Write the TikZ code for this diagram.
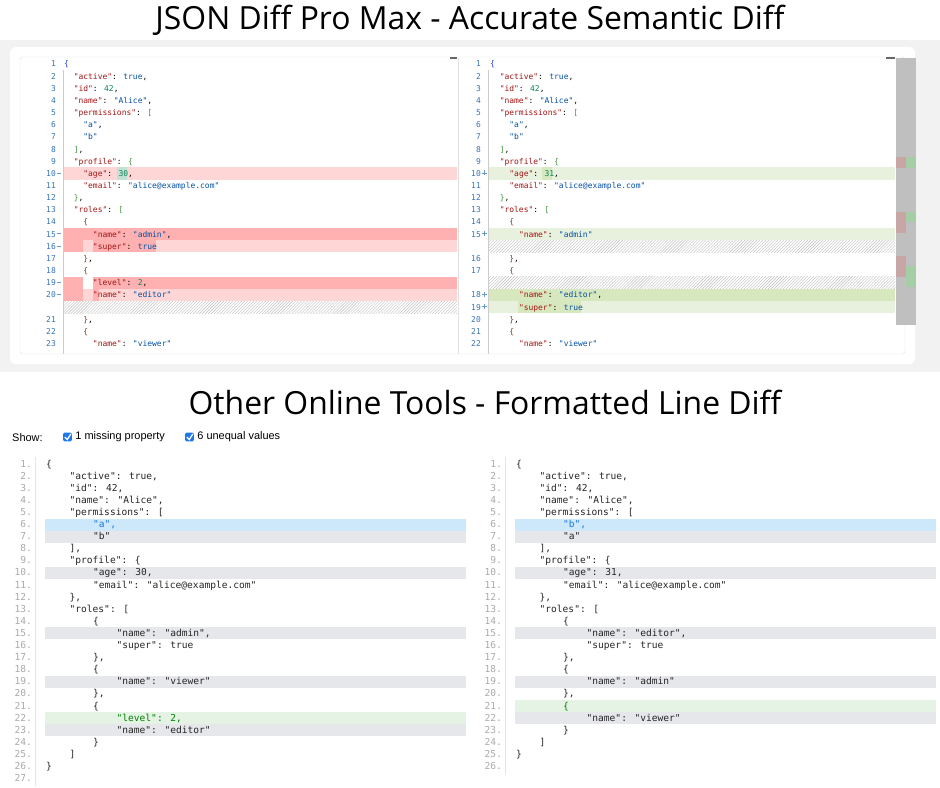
\documentclass[tikz,border=0pt]{standalone}
\usepackage{fontspec}
\setmainfont{Open Sans}
\newfontfamily\codefont{DejaVu Sans Mono}
\newfontfamily\uifont{Liberation Sans}
\usetikzlibrary{patterns,positioning}
\definecolor{jkey}{RGB}{163,21,21}
\definecolor{jstr}{RGB}{4,81,165}
\definecolor{jnum}{RGB}{9,134,88}
\definecolor{bzero}{RGB}{20,60,230}
\definecolor{bone}{RGB}{60,150,60}
\definecolor{btwo}{RGB}{125,60,25}
\definecolor{redlt}{RGB}{255,214,214}
\definecolor{reddk}{RGB}{255,176,176}
\definecolor{grnlt}{RGB}{232,241,222}
\definecolor{grndk}{RGB}{215,232,190}
\definecolor{bandblue}{RGB}{205,232,250}
\definecolor{bandgray}{RGB}{230,231,235}
\definecolor{bandgreen}{RGB}{229,243,229}
\definecolor{numgray}{RGB}{170,170,170}
\definecolor{cbblue}{RGB}{30,120,230}
\newcommand{\K}[1]{\textcolor{jkey}{#1}}
\newcommand{\Sv}[1]{\textcolor{jstr}{#1}}
\newcommand{\Nv}[1]{\textcolor{jnum}{#1}}
\newcommand{\Bz}[1]{\textcolor{bzero}{#1}}
\newcommand{\Bo}[1]{\textcolor{bone}{#1}}
\newcommand{\Bt}[1]{\textcolor{btwo}{#1}}
\tikzset{
  topcode/.style={anchor=base west,inner sep=0pt,font=\codefont\fontsize{8}{8}\selectfont},
  topnum/.style={anchor=base east,inner sep=0pt,text=jstr!80,font=\codefont\fontsize{8}{8}\selectfont},
  botcode/.style={anchor=base west,inner sep=0pt,text=black!85,font=\codefont\fontsize{9.6}{9.6}\selectfont},
  botnum/.style={anchor=base east,inner sep=0pt,text=numgray,font=\codefont\fontsize{9.6}{9.6}\selectfont},
  title/.style={inner sep=0pt,font=\fontsize{32}{32}\selectfont},
  ui/.style={anchor=base west,inner sep=0pt,font=\uifont\fontsize{11}{11}\selectfont},
  hatch/.style={pattern=north east lines,pattern color=black!25},
  checkbox/.style={fill=cbblue,rounded corners=1.5,minimum size=9,inner sep=0pt}
}
\begin{document}
\begin{tikzpicture}[x=1bp,y=-1bp]
\useasboundingbox (0,0) rectangle (940,788);
\fill[white] (0,0) rectangle (940,788);
% titles
\node[title] (ttop) at (470,20) {JSON Diff Pro Max - Accurate Semantic Diff};
\node[title] (tbot) at (485,402) {Other Online Tools - Formatted Line Diff};
% top card
\fill[black!5] (0,40) rectangle (940,372);
\fill[white,rounded corners=6] (10,47) rectangle (915,364);
\draw[black!12,rounded corners=3] (20,57) rectangle (905,354);
% left highlights
\foreach \r/\xa/\xb/\c in {9/63/457/redlt, 9/117/127/jnum!25, 14/63/457/reddk,
    15/63/457/redlt, 15/63/83/reddk, 15/93/156/reddk, 18/93/457/reddk,
    19/63/457/redlt, 18/63/83/reddk, 19/63/83/reddk, 19/93/99/reddk}
  \fill[\c] (\xa,58+12.15*\r) rectangle (\xb,70.15+12.15*\r);
\fill[hatch] (63,58+12.15*20) rectangle (457,70.15+12.15*20);
% right highlights
\foreach \r/\xa/\xb/\c in {9/488/895/grnlt, 9/542/552/grndk, 14/488/895/grnlt,
    19/488/895/grndk, 20/488/895/grnlt, 20/518/581/grndk}
  \fill[\c] (\xa,58+12.15*\r) rectangle (\xb,70.15+12.15*\r);
\foreach \r in {15,18}
  \fill[hatch] (488,58+12.15*\r) rectangle (895,70.15+12.15*\r);
% gutters and split
\draw[black!20] (63,70) -- (63,354) (488,70) -- (488,354);
\draw[black!12] (458,58) -- (458,354);
\fill[black!60] (450,57) rectangle (457,59);
\fill[black!60] (886,57) rectangle (895,59);
% minimap
\fill[black!25] (896,58) rectangle (916,325);
\fill[red!40!black!35] (896,157) rectangle (906,168);
\fill[green!45!black!35] (906,157) rectangle (916,168);
\fill[red!40!black!35] (896,212) rectangle (906,233);
\fill[green!45!black!35] (906,212) rectangle (916,222);
\fill[red!40!black!35] (896,256) rectangle (906,277);
\fill[green!45!black!35] (906,266) rectangle (916,287);
% top left code
\foreach \n/\r/\lv/\txt in {
  1/0/0/{\Bz{\{}},
  2/1/1/{\K{"active"}: \Sv{true},},
  3/2/1/{\K{"id"}: \Nv{42},},
  4/3/1/{\K{"name"}: \Sv{"Alice"},},
  5/4/1/{\K{"permissions"}: \Bo{[}},
  6/5/2/{\Sv{"a"},},
  7/6/2/{\Sv{"b"}},
  8/7/1/{\Bo{]},},
  9/8/1/{\K{"profile"}: \Bo{\{}},
  10/9/2/{\K{"age"}: \Nv{30},},
  11/10/2/{\K{"email"}: \Sv{"alice@example.com"}},
  12/11/1/{\Bo{\}},},
  13/12/1/{\K{"roles"}: \Bo{[}},
  14/13/2/{\Bt{\{}},
  15/14/3/{\K{"name"}: \Sv{"admin"},},
  16/15/3/{\K{"super"}: \Sv{true}},
  17/16/2/{\Bt{\}},},
  18/17/2/{\Bt{\{}},
  19/18/3/{\K{"level"}: \Nv{2},},
  20/19/3/{\K{"name"}: \Sv{"editor"}},
  21/21/2/{\Bt{\}},},
  22/22/2/{\Bt{\{}},
  23/23/3/{\K{"name"}: \Sv{"viewer"}}}{
  \node[topnum] (tln-\n) at (56,67+12.15*\r) {\n};
  \node[topcode] (tlc-\n) at (64+9.6*\lv,67+12.15*\r) {\txt};
}
\foreach \n/\r in {10/9,15/14,16/15,19/18,20/19}
  \draw[jstr!60] (56.5,63.5+12.15*\r) -- (61,63.5+12.15*\r);
% top right code
\foreach \n/\r/\lv/\txt in {
  1/0/0/{\Bz{\{}},
  2/1/1/{\K{"active"}: \Sv{true},},
  3/2/1/{\K{"id"}: \Nv{42},},
  4/3/1/{\K{"name"}: \Sv{"Alice"},},
  5/4/1/{\K{"permissions"}: \Bo{[}},
  6/5/2/{\Sv{"a"},},
  7/6/2/{\Sv{"b"}},
  8/7/1/{\Bo{]},},
  9/8/1/{\K{"profile"}: \Bo{\{}},
  10/9/2/{\K{"age"}: \Nv{31},},
  11/10/2/{\K{"email"}: \Sv{"alice@example.com"}},
  12/11/1/{\Bo{\}},},
  13/12/1/{\K{"roles"}: \Bo{[}},
  14/13/2/{\Bt{\{}},
  15/14/3/{\K{"name"}: \Sv{"admin"}},
  16/16/2/{\Bt{\}},},
  17/17/2/{\Bt{\{}},
  18/19/3/{\K{"name"}: \Sv{"editor"},},
  19/20/3/{\K{"super"}: \Sv{true}},
  20/21/2/{\Bt{\}},},
  21/22/2/{\Bt{\{}},
  22/23/3/{\K{"name"}: \Sv{"viewer"}}}{
  \node[topnum] (trn-\n) at (481,67+12.15*\r) {\n};
  \node[topcode] (trc-\n) at (490+9.6*\lv,67+12.15*\r) {\txt};
}
\foreach \n/\r in {10/9,15/14,18/19,19/20}
  \draw[jstr!60] (481.5,63.5+12.15*\r) -- (486.5,63.5+12.15*\r) (484,61+12.15*\r) -- (484,66+12.15*\r);
% show bar
\node[ui] (show) at (12,441) {Show:};
\node[checkbox] (cb1) at (67.5,437) {};
\node[ui,right=3 of cb1.east,anchor=west] (lab1) {1 missing property};
\node[checkbox] (cb2) at (189.5,437) {};
\node[ui,right=3 of cb2.east,anchor=west] (lab2) {6 unequal values};
\draw[white,line width=1.3] (cb1.west)++(2,0) -- ++(2.5,2.5) -- ++(3.5,-5.5);
\draw[white,line width=1.3] (cb2.west)++(2,0) -- ++(2.5,2.5) -- ++(3.5,-5.5);
% bottom bands
\foreach \r/\c in {5/bandblue,6/bandgray,9/bandgray,14/bandgray,18/bandgray,21/bandgreen,22/bandgray}
  \fill[\c] (45,458+12.1*\r) rectangle (466,470+12.1*\r);
\foreach \r/\c in {5/bandblue,6/bandgray,9/bandgray,14/bandgray,18/bandgray,20/bandgreen,21/bandgray}
  \fill[\c] (515,458+12.1*\r) rectangle (936,470+12.1*\r);
\draw[black!10] (35,457) -- (35,786) (505,457) -- (505,774);
% bottom left code
\foreach \n/\lv/\txt in {
  1/0/{\{}, 2/1/{"active": true,}, 3/1/{"id": 42,}, 4/1/{"name": "Alice",},
  5/1/{"permissions": [}, 6/2/{\textcolor{cbblue}{"a",}}, 7/2/{"b"}, 8/1/{],},
  9/1/{"profile": \{}, 10/2/{"age": 30,}, 11/2/{"email": "alice@example.com"},
  12/1/{\},}, 13/1/{"roles": [}, 14/2/{\{}, 15/3/{"name": "admin",},
  16/3/{"super": true}, 17/2/{\},}, 18/2/{\{}, 19/3/{"name": "viewer"},
  20/2/{\},}, 21/2/{\{}, 22/3/{\textcolor{green!50!black}{"level": 2,}},
  23/3/{"name": "editor"}, 24/2/{\}}, 25/1/{]}, 26/0/{\}}, 27/0/{}}{
  \node[botnum] (bln-\n) at (32,467+12.1*\n-12.1) {\n.};
  \node[botcode] (blc-\n) at (46+23.5*\lv,467+12.1*\n-12.1) {\txt};
}
% bottom right code
\foreach \n/\lv/\txt in {
  1/0/{\{}, 2/1/{"active": true,}, 3/1/{"id": 42,}, 4/1/{"name": "Alice",},
  5/1/{"permissions": [}, 6/2/{\textcolor{cbblue}{"b",}}, 7/2/{"a"}, 8/1/{],},
  9/1/{"profile": \{}, 10/2/{"age": 31,}, 11/2/{"email": "alice@example.com"},
  12/1/{\},}, 13/1/{"roles": [}, 14/2/{\{}, 15/3/{"name": "editor",},
  16/3/{"super": true}, 17/2/{\},}, 18/2/{\{}, 19/3/{"name": "admin"},
  20/2/{\},}, 21/2/{\textcolor{green!50!black}{\{}}, 22/3/{"name": "viewer"},
  23/2/{\}}, 24/1/{]}, 25/0/{\}}, 26/0/{}}{
  \node[botnum] (brn-\n) at (502,467+12.1*\n-12.1) {\n.};
  \node[botcode] (brc-\n) at (516+23.5*\lv,467+12.1*\n-12.1) {\txt};
}
\end{tikzpicture}
\end{document}
